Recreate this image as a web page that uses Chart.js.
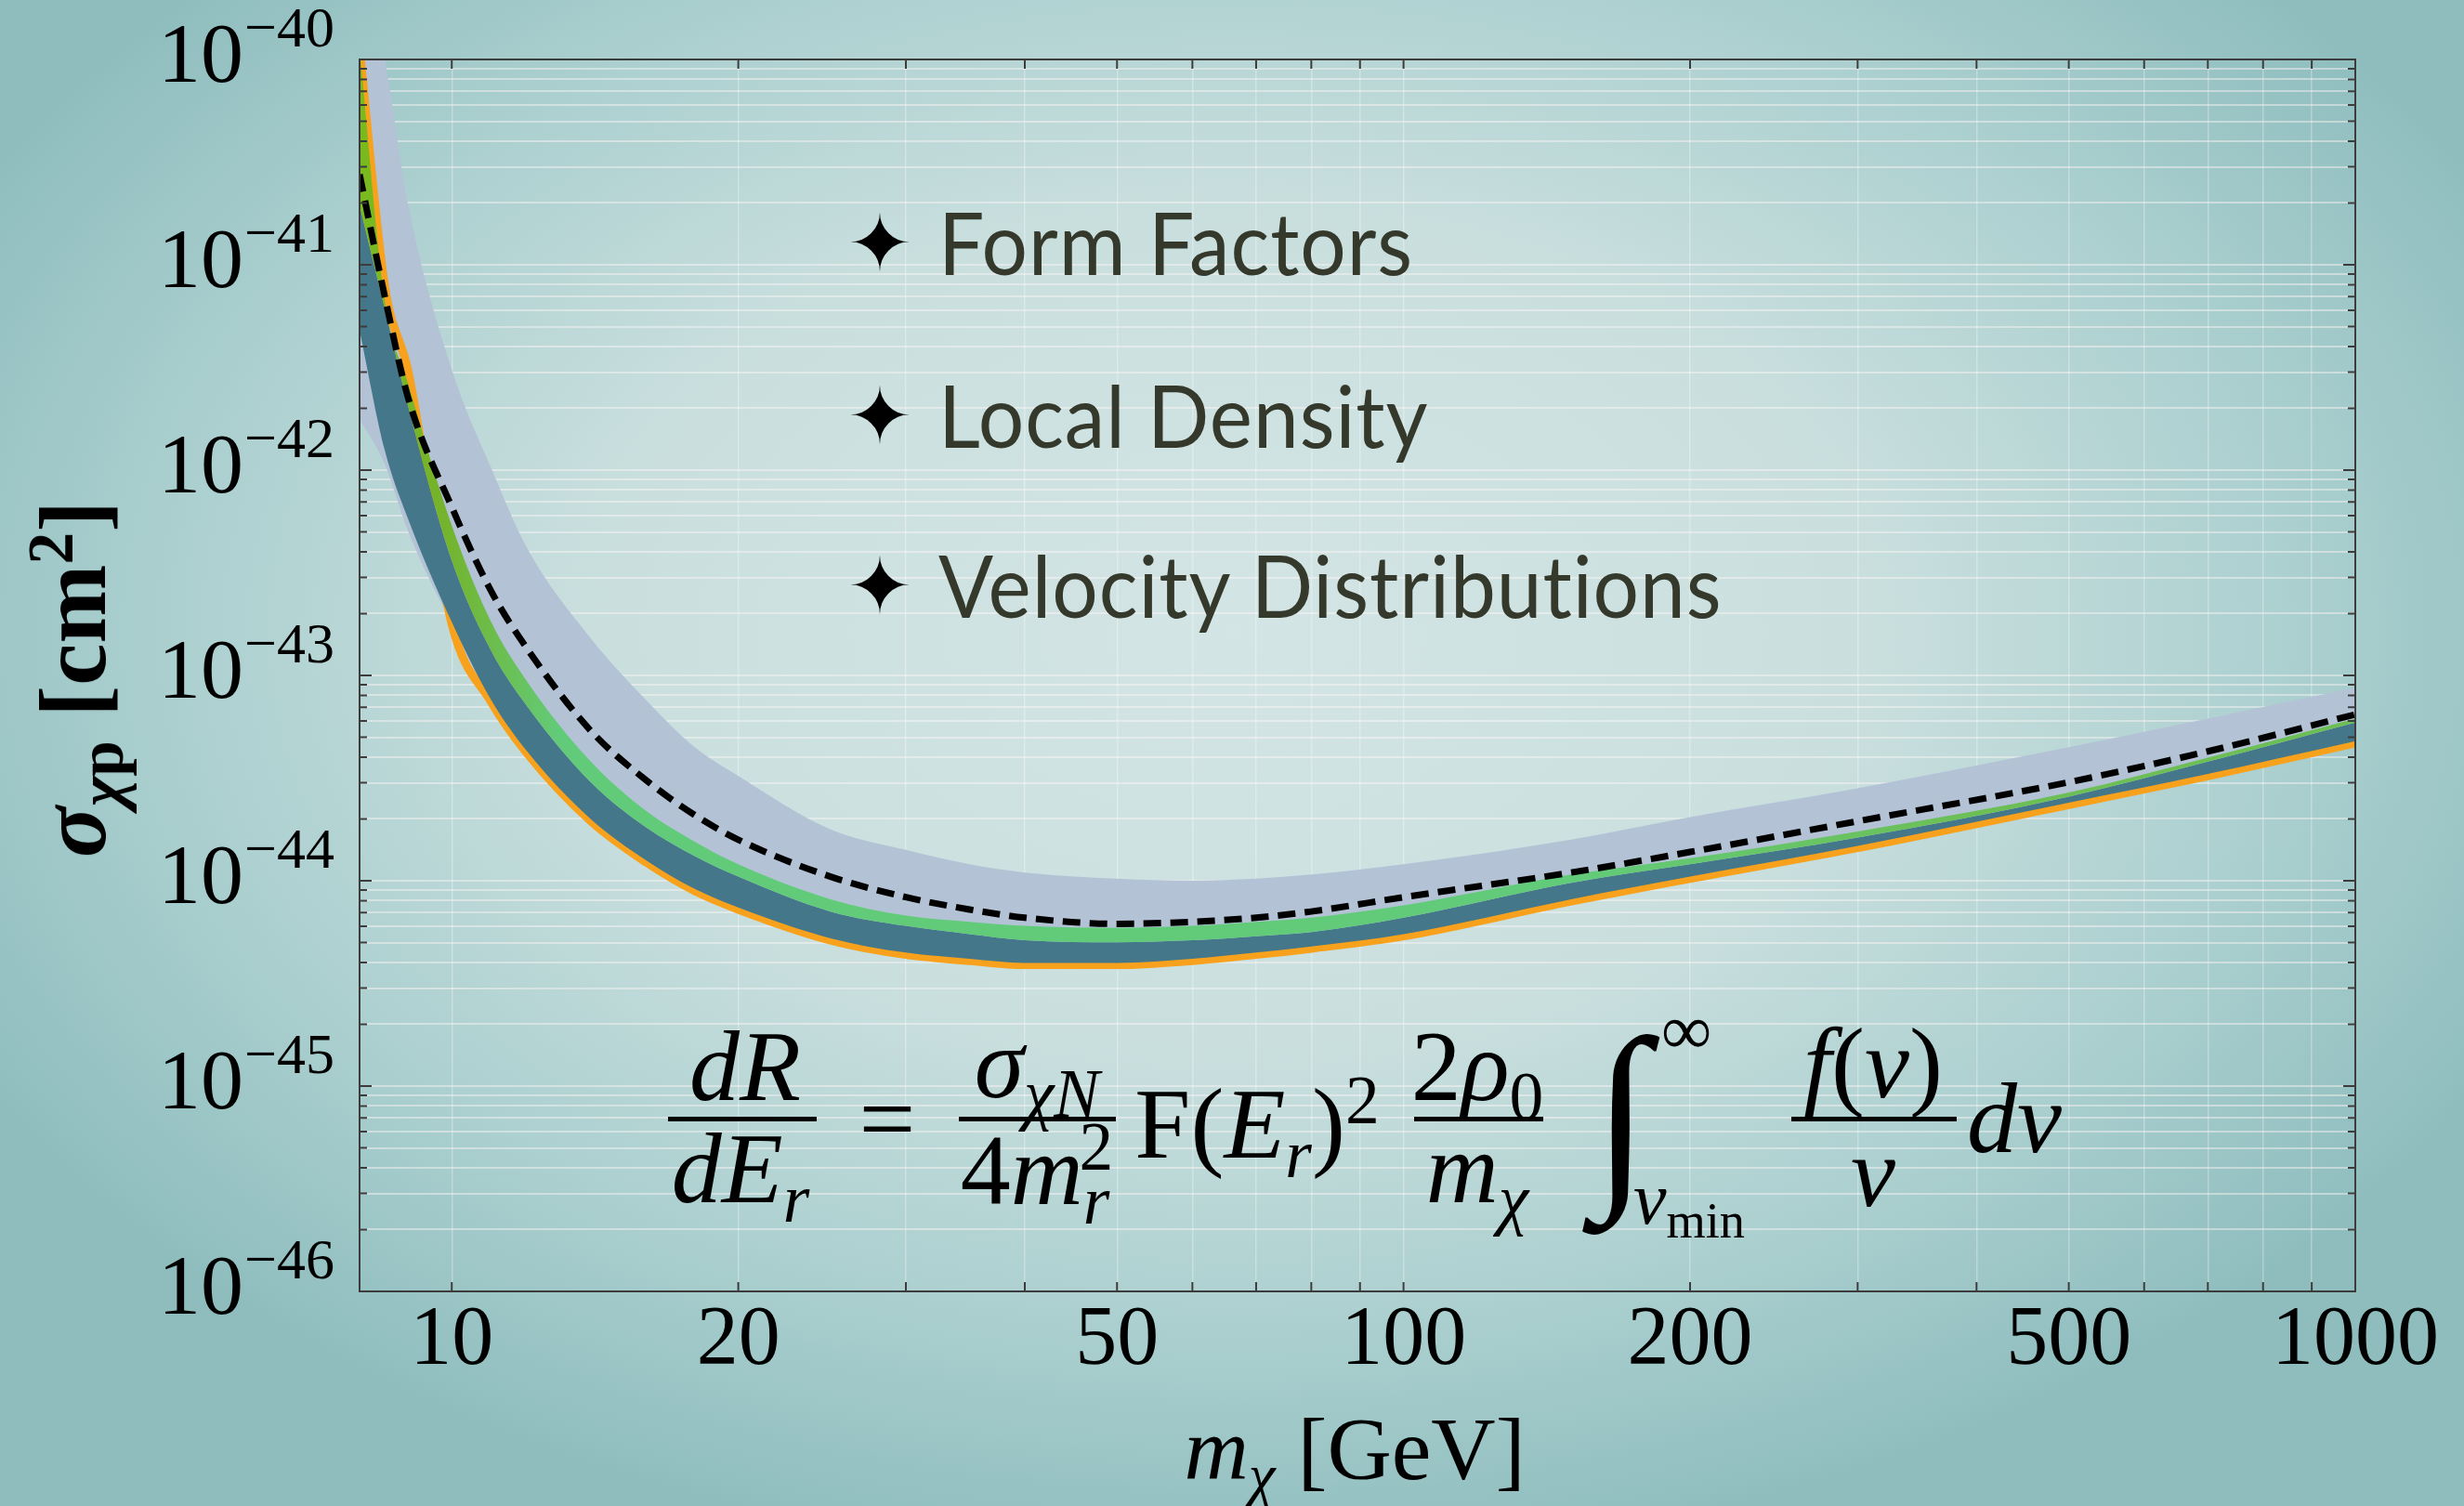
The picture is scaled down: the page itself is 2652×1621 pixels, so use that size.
<!DOCTYPE html>
<html>
<head>
<meta charset="utf-8">
<title>WIMP exclusion limits</title>
<script src="https://cdn.jsdelivr.net/npm/chart.js@4.4.1/dist/chart.umd.min.js"></script>
<style>
  html, body { margin: 0; padding: 0; }
  body {
    width: 2652px; height: 1621px; overflow: hidden; position: relative;
    background: radial-gradient(ellipse 58% 62% at 50% 42%, #d3e5e4 0%, #c9dfde 45%, #abcfcf 75%, #8fbdbe 100%);
  }
  #wrap { position: absolute; left: 0; top: 0; width: 2652px; height: 1621px; }
  .ov { position: absolute; white-space: nowrap; line-height: 1; }
  .c { transform: translate(-50%, -50%); }
  .serif { font-family: 'Liberation Serif', 'Times New Roman', serif; color: #000; }
  .eq { font-family: 'Liberation Serif', 'Times New Roman', serif; font-size: 108px; color: #000; }
  .sb { font-size: 0.68em; position: relative; top: 0.28em; }
  .sp { font-size: 0.68em; position: relative; top: -0.5em; }
  .bar { position: absolute; height: 5px; background: #000; }
  .star { font-family: 'DejaVu Sans', sans-serif; font-size: 84px; color: #000; }
  .btxt { font-family: Lato, 'Noto Sans', sans-serif; font-size: 94px; color: #35392c; letter-spacing: 1px;
          transform: translateY(-50%) scaleX(0.93); transform-origin: left center; }
</style>
</head>
<body>
<div id="wrap"><canvas id="chart" width="2652" height="1621"></canvas></div>

<!-- bullets -->
<div class="ov star c" style="left:947px;top:262px">✦</div>
<div class="ov btxt" style="left:1010px;top:260px">Form Factors</div>
<div class="ov star c" style="left:947px;top:448px">✦</div>
<div class="ov btxt" style="left:1010px;top:446px">Local Density</div>
<div class="ov star c" style="left:947px;top:631px">✦</div>
<div class="ov btxt" style="left:1010px;top:629px">Velocity Distributions</div>

<!-- rate equation -->
<div class="ov eq c" style="left:802px;top:1148px"><i>dR</i></div>
<div class="bar" style="left:719px;top:1202px;width:160px"></div>
<div class="ov eq c" style="left:797px;top:1258px"><i>dE</i><span class="sb"><i>r</i></span></div>
<div class="ov eq c" style="left:955px;top:1204px">=</div>
<div class="ov eq c" style="left:1116px;top:1145px"><i>σ</i><span class="sb"><i>χN</i></span></div>
<div class="bar" style="left:1032px;top:1202px;width:169px"></div>
<div class="ov eq c" style="left:1116px;top:1260px">4<i>m</i><span class="sb"><i>r</i></span><span class="sp" style="margin-left:-0.45em">2</span></div>
<div class="ov eq c" style="left:1353px;top:1210px">F(<i>E</i><span class="sb"><i>r</i></span>)<span class="sp">2</span></div>
<div class="ov eq c" style="left:1590px;top:1148px">2<i>ρ</i><span class="sb">0</span></div>
<div class="bar" style="left:1522px;top:1202px;width:139px"></div>
<div class="ov eq c" style="left:1590px;top:1258px"><i>m</i><span class="sb"><i>χ</i></span></div>
<div class="ov eq c" style="left:1745px;top:1196px;font-size:220px"><i>∫</i></div>
<div class="ov eq c" style="left:1815px;top:1108px;font-size:76px">∞</div>
<div class="ov eq c" style="left:1818px;top:1290px;font-size:80px"><i>v</i><span class="sb">min</span></div>
<div class="ov eq c" style="left:2016px;top:1145px"><i>f</i>(<i>v</i>)</div>
<div class="bar" style="left:1928px;top:1202px;width:178px"></div>
<div class="ov eq c" style="left:2016px;top:1262px"><i>v</i></div>
<div class="ov eq c" style="left:2168px;top:1204px"><i>dv</i></div>

<!-- axis titles -->
<div class="ov serif c" style="left:1458px;top:1560px;font-size:96px"><i>m</i><span class="sb"><i>χ</i></span> [GeV]</div>
<div class="ov serif" style="left:79px;top:731px;font-size:102px;font-weight:bold;transform:translate(-50%,-50%) rotate(-90deg)"><i>σ</i><span class="sb"><i>χ</i>p</span> [cm<span class="sp">2</span>]</div>

<script>
// dark matter mass grid (GeV)
const masses = [8, 8.5, 9, 10, 11, 12, 14, 16, 18, 20, 25, 30, 35, 40, 50, 60, 70, 80, 100, 150, 200, 300, 500, 700, 1000];

// all series below are log10(sigma / cm^2)
const dashedLog = [-40.56, -41.15, -41.65, -42.18, -42.59, -42.87, -43.27, -43.51, -43.68, -43.80, -43.98, -44.08, -44.14, -44.18, -44.21, -44.20, -44.18, -44.15, -44.08, -43.96, -43.86, -43.71, -43.52, -43.37, -43.19];
const blueUpperLog = [-39.5, -40.0, -40.71, -41.51, -41.99, -42.38, -42.82, -43.12, -43.35, -43.49, -43.75, -43.85, -43.92, -43.96, -43.99, -44.00, -43.99, -43.97, -43.92, -43.80, -43.69, -43.55, -43.35, -43.21, -43.06];
const blueLowerLog = [-41.75, -41.97, -42.30, -42.75, -43.13, -43.38, -43.71, -43.91, -44.05, -44.14, -44.29, -44.36, -44.39, -44.41, -44.41, -44.39, -44.36, -44.33, -44.27, -44.10, -43.99, -43.84, -43.63, -43.49, -43.33];
const greenUpperLog = [-39.95, -41.17, -41.58, -42.27, -42.74, -43.03, -43.42, -43.66, -43.81, -43.92, -44.09, -44.17, -44.20, -44.22, -44.23, -44.22, -44.20, -44.18, -44.12, -43.97, -43.89, -43.76, -43.57, -43.40, -43.21];
const greenLowerLog = [-40.71, -41.21, -41.69, -42.44, -42.88, -43.15, -43.52, -43.74, -43.88, -43.98, -44.15, -44.22, -44.26, -44.29, -44.30, -44.29, -44.27, -44.25, -44.18, -44.01, -43.92, -43.79, -43.59, -43.42, -43.23];
const tealLowerLog = [-41.32, -41.90, -42.24, -42.74, -43.12, -43.37, -43.70, -43.90, -44.04, -44.13, -44.28, -44.35, -44.38, -44.40, -44.40, -44.38, -44.35, -44.32, -44.26, -44.09, -43.98, -43.83, -43.62, -43.48, -43.32];
const orangeLog = [-39.95, -41.10, -41.52, -42.75, -43.13, -43.38, -43.71, -43.91, -44.05, -44.14, -44.29, -44.36, -44.39, -44.41, -44.41, -44.39, -44.36, -44.33, -44.27, -44.10, -43.99, -43.84, -43.63, -43.49, -43.33];

// axes
const xTickLabels = [10, 20, 50, 100, 200, 500, 1000];
const xMinorTicks = [30, 40, 60, 70, 80, 90, 300, 400, 600, 700, 800, 900];
const yDecades = [-46, -45, -44, -43, -42, -41, -40];
const yMinorSteps = [2, 3, 4, 5, 6, 7, 8, 9];

const pts = arr => masses.map((m, i) => ({ x: m, y: Math.pow(10, arr[i]) }));

function greenFill(c) {
    const ch = c.chart;
    const a = ch.chartArea;
    if (!a || !ch.scales.x) return '#62cb7a';
    const sx = ch.scales.x;
    const f = v => Math.min(1, Math.max(0, (sx.getPixelForValue(v) - a.left) / (a.right - a.left)));
    const g = ch.ctx.createLinearGradient(a.left, 0, a.right, 0);
    g.addColorStop(0, '#7aba1e');
    g.addColorStop(f(9.8), '#74b32b');
    g.addColorStop(f(13), '#62cb7a');
    g.addColorStop(f(150), '#62cb7a');
    g.addColorStop(f(400), '#6cbf55');
    g.addColorStop(1, '#6cbf55');
    return g;
}

const frameTicks = {
    id: 'frameTicks',
    afterDraw(chart) {
        const { ctx, chartArea: a, scales: { x, y } } = chart;
        ctx.save();
        ctx.strokeStyle = '#3c3c3c';
        ctx.lineWidth = 2;
        ctx.strokeRect(a.left, a.top, a.right - a.left, a.bottom - a.top);
        ctx.beginPath();
        x.ticks.forEach(t => {
            const px = x.getPixelForValue(t.value);
            ctx.moveTo(px, a.bottom); ctx.lineTo(px, a.bottom - 10);
            ctx.moveTo(px, a.top); ctx.lineTo(px, a.top + 10);
        });
        y.ticks.forEach(t => {
            const py = y.getPixelForValue(t.value);
            const len = t.major ? 13 : 8;
            ctx.moveTo(a.left, py); ctx.lineTo(a.left + len, py);
            ctx.moveTo(a.right, py); ctx.lineTo(a.right - len, py);
        });
        ctx.stroke();
        // exponents of the y labels
        ctx.fillStyle = '#000';
        ctx.font = '62px "Liberation Serif"';
        ctx.textAlign = 'left';
        ctx.textBaseline = 'middle';
        y.ticks.filter(t => t.major).forEach(t => {
            const e = Math.round(Math.log10(t.value));
            ctx.fillText('\u2212' + Math.abs(e), 263, y.getPixelForValue(t.value) - 30);
        });
        ctx.restore();
    }
};

const ctx = document.getElementById('chart').getContext('2d');

const myChart = new Chart(ctx, {
    type: 'line',
    data: {
        datasets: [
            { label: 'central', data: pts(dashedLog), borderColor: '#000', borderWidth: 7, borderDash: [19, 10], fill: false, order: 0 },
            { label: 'green', data: pts(greenUpperLog), borderWidth: 0, backgroundColor: greenFill, fill: '+1', order: 1 },
            { label: 'green low', data: pts(greenLowerLog), borderWidth: 0, fill: false, order: 2 },
            { label: 'teal', data: pts(greenLowerLog), borderWidth: 0, backgroundColor: '#45778a', fill: '+1', order: 3 },
            { label: 'teal low', data: pts(tealLowerLog), borderWidth: 0, fill: false, order: 4 },
            { label: 'orange', data: pts(orangeLog), borderColor: '#f7a11d', borderWidth: 9, fill: false, order: 5 },
            { label: 'band', data: pts(blueUpperLog), borderWidth: 0, backgroundColor: '#b4c2d6', fill: '+1', order: 6 },
            { label: 'band low', data: pts(blueLowerLog), borderWidth: 0, fill: false, order: 7 }
        ]
    },
    options: {
        responsive: false,
        animation: false,
        layout: { padding: { top: 64, right: 117, left: 0, bottom: 0 } },
        elements: {
            point: { radius: 0 },
            line: { cubicInterpolationMode: 'monotone' }
        },
        plugins: {
            legend: { display: false },
            tooltip: { enabled: false }
        },
        scales: {
            x: {
                type: 'logarithmic',
                min: 8,
                max: 1000,
                afterBuildTicks: s => {
                    s.ticks = xTickLabels.concat(xMinorTicks).sort((a, b) => a - b)
                        .map(v => ({ value: v, major: xTickLabels.includes(v) }));
                },
                afterFit: s => { s.height = 231; s.paddingLeft = 0; s.paddingRight = 0; },
                ticks: {
                    autoSkip: false,
                    maxRotation: 0,
                    padding: 0,
                    color: '#000',
                    font: { family: 'Liberation Serif', size: 90 },
                    callback: v => xTickLabels.includes(v) ? String(v) : ''
                },
                grid: { color: 'rgba(255,255,255,0.3)', lineWidth: 1.5, drawTicks: false },
                border: { display: false }
            },
            y: {
                type: 'logarithmic',
                min: 1e-46,
                max: 1e-40,
                afterBuildTicks: s => {
                    const t = [];
                    yDecades.forEach(d => {
                        t.push({ value: Math.pow(10, d), major: true });
                        if (d < -40) yMinorSteps.forEach(k => t.push({ value: k * Math.pow(10, d), major: false }));
                    });
                    s.ticks = t;
                },
                afterFit: s => { s.width = 387; s.paddingTop = 0; s.paddingBottom = 0; },
                ticks: {
                    autoSkip: false,
                    padding: 125,
                    color: '#000',
                    font: { family: 'Liberation Serif', size: 92 },
                    callback: (v, i, ticks) => ticks[i].major ? '10' : ''
                },
                grid: { color: 'rgba(255,246,246,0.45)', lineWidth: 2, drawTicks: false },
                border: { display: false }
            }
        }
    },
    plugins: [frameTicks]
});
</script>
</body>
</html>
